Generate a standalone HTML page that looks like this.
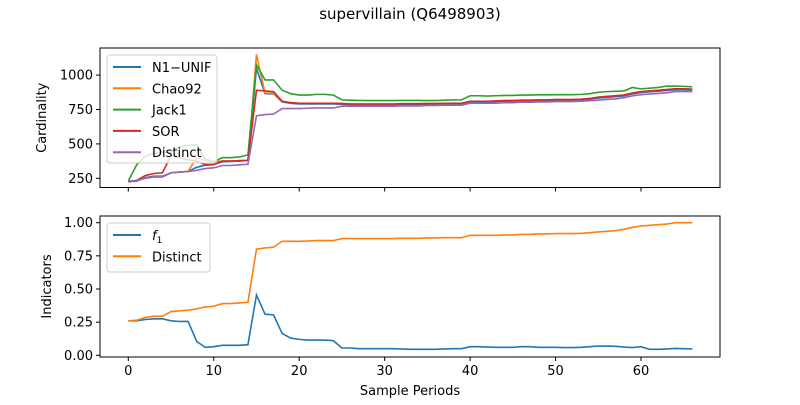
<!DOCTYPE html>
<html><head><meta charset="utf-8"><style>
body{margin:0;background:#fff;font-family:"Liberation Sans","DejaVu Sans",sans-serif}
svg text{font-family:"DejaVu Sans","Liberation Sans",sans-serif}
</style></head><body>
<svg id="chart" width="800" height="400" xmlns="http://www.w3.org/2000/svg">
<rect width="800" height="400" fill="#fff"/>
<text x="410" y="19" font-size="15" text-anchor="middle">supervillain (Q6498903)</text>
<g id="top"></g><g id="bot"></g>
</svg>
<script>
const periods = Array.from({length:67},(_,i)=>i);
const n1Unif=[225,230,255,265,265,290,295,300,330,345,350,370,372,375,380,1050,865,865,805,795,790,790,790,790,790,788,785,785,785,785,785,785,787,787,787,788,788,790,790,790,805,805,805,807,810,810,813,813,815,815,817,817,817,820,825,833,838,843,848,863,873,878,883,888,893,893,891];
const chao92=[225,235,250,260,260,290,295,300,400,380,370,375,375,378,380,1150,870,870,810,800,795,795,795,795,795,793,790,790,790,790,790,790,792,792,792,793,793,795,795,795,810,810,810,812,815,815,818,818,820,820,822,822,822,825,830,840,845,850,855,870,880,885,890,895,900,900,898];
const jack1=[230,350,410,430,440,440,480,490,495,390,370,400,400,405,420,1075,965,965,890,865,855,855,860,860,855,820,818,816,815,815,815,815,816,816,816,815,815,818,820,820,850,850,848,850,852,852,855,855,857,857,858,858,858,860,865,875,880,882,885,910,900,905,910,920,920,918,915];
const sor=[225,235,270,285,290,415,400,385,375,350,350,375,375,378,380,890,885,880,810,800,795,795,795,795,795,793,790,790,790,790,790,790,792,792,792,793,793,795,795,795,810,810,810,812,815,815,818,818,820,820,822,822,822,825,830,840,845,850,855,870,880,885,890,895,900,900,898];
const distinctRatio=[0.26,0.265,0.285,0.295,0.295,0.33,0.335,0.34,0.35,0.365,0.37,0.39,0.39,0.395,0.40,0.80,0.81,0.815,0.86,0.86,0.86,0.862,0.865,0.865,0.865,0.88,0.88,0.88,0.88,0.88,0.88,0.88,0.882,0.882,0.882,0.885,0.885,0.887,0.887,0.887,0.905,0.905,0.905,0.905,0.908,0.908,0.912,0.912,0.915,0.915,0.918,0.918,0.918,0.92,0.925,0.93,0.935,0.94,0.95,0.965,0.975,0.98,0.985,0.99,1.0,1.0,1.0];
const distinctCount=distinctRatio.map(v=>Math.round(v*880));
const f1=[0.26,0.26,0.27,0.275,0.275,0.26,0.255,0.255,0.105,0.06,0.065,0.075,0.075,0.075,0.08,0.455,0.31,0.305,0.165,0.13,0.12,0.115,0.115,0.115,0.11,0.055,0.055,0.05,0.05,0.05,0.05,0.05,0.048,0.045,0.045,0.045,0.045,0.048,0.05,0.05,0.065,0.065,0.062,0.06,0.06,0.06,0.065,0.065,0.06,0.06,0.06,0.058,0.058,0.06,0.065,0.07,0.07,0.068,0.062,0.058,0.065,0.045,0.045,0.048,0.052,0.05,0.048];
const xTicks=[0,10,20,30,40,50,60];
const topTicks=[250,500,750,1000];
const botTicks=[0,0.25,0.5,0.75,1.0];
const botTickLabels=["0.00","0.25","0.50","0.75","1.00"];

const NS="http://www.w3.org/2000/svg";
function mk(p,t,a){const e=document.createElementNS(NS,t);for(const k in a)e.setAttribute(k,a[k]);p.appendChild(e);return e;}
const X=v=>128.3+v*8.545;
const Ytop=v=>178.3-(v-250)*(34.4/250);
const Ybot=v=>355.3-v*132.6;

function panel(g,top,bottom,Y,ticks,labels,series,ytitle,legend,leg,showX){
  const fr=mk(g,'rect',{x:100,y:top,width:620,height:bottom-top,fill:'none',stroke:'#000','stroke-width':1});
  
  
  xTicks.forEach(t=>{
    const l=mk(g,'line',{x1:X(t),x2:X(t),y1:bottom,y2:bottom+4,stroke:'#000'});
    
    
    if(showX){const tx=mk(g,'text',{x:X(t),y:bottom+18,'font-size':13,'text-anchor':'middle'});tx.textContent=t;
      
      }
  });
  ticks.forEach((t,i)=>{
    const l=mk(g,'line',{x1:96,x2:100,y1:Y(t),y2:Y(t),stroke:'#000'});
    
    
    const tx=mk(g,'text',{x:93,y:Y(t)+4.5,'font-size':13,'text-anchor':'end'});tx.textContent=labels[i];
    
    
  });
  const yt=mk(g,'text',{x:0,y:0,'font-size':13,'text-anchor':'middle',transform:`translate(${ytitle==='Cardinality'?46:51},${(top+bottom)/2}) rotate(-90)`});
  yt.textContent=ytitle;
  
  
  series.forEach(s=>{
    const p=mk(g,'polyline',{points:s.d.map((v,i)=>X(periods[i])+','+Y(v)).join(' '),fill:'none',stroke:s.c,'stroke-width':1.6});
    
    
  });
  const lb=mk(g,'rect',{x:leg[0],y:leg[1],width:leg[2],height:leg[3],rx:3,fill:'#fff','fill-opacity':0.8,stroke:'#ccc'});
  
  
  series.forEach((s,i)=>{
    const yy=leg[1]+12+i*21.3;
    const l=mk(g,'line',{x1:leg[0]+6,x2:leg[0]+34,y1:yy,y2:yy,stroke:s.c,'stroke-width':2});
    
    
    const tx=mk(g,'text',{x:leg[0]+45,y:yy+5,'font-size':13});
    tx.innerHTML=s.label;
    
    
  });
}
panel(document.getElementById('top'),48,187.5,Ytop,topTicks,topTicks.map(String),[
 {d:n1Unif,c:'#1f77b4',n:'n1-unif',label:'N1\u2212UNIF'},
 {d:chao92,c:'#ff7f0e',n:'chao92',label:'Chao92'},
 {d:jack1,c:'#2ca02c',n:'jack1',label:'Jack1'},
 {d:sor,c:'#d62728',n:'sor',label:'SOR'},
 {d:distinctCount,c:'#9467bd',n:'distinct-count',label:'Distinct'}],'Cardinality',true,[107,55,110,108],false);
panel(document.getElementById('bot'),216,357,Ybot,botTicks,botTickLabels,[
 {d:f1,c:'#1f77b4',n:'f1',label:'<tspan font-style="italic">f</tspan><tspan font-size="9" dy="3">1</tspan>'},
 {d:distinctRatio,c:'#ff7f0e',n:'distinct-ratio',label:'Distinct'}],'Indicators',true,[107,223,103,49],true);
const xl=mk(document.getElementById('bot'),'text',{x:410,y:395,'font-size':13,'text-anchor':'middle'});
xl.textContent='Sample Periods';


</script>
</body></html>
